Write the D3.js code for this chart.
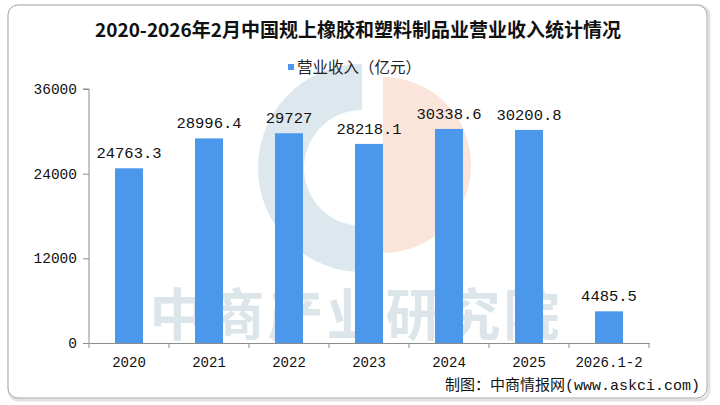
<!DOCTYPE html>
<html>
<head>
<meta charset="utf-8">
<script src="https://cdn.jsdelivr.net/npm/d3@7"></script>
<style>
  body { margin: 0; background: #fff; }
  svg { display: block; }
</style>
</head>
<body>
<svg id="chart"></svg>
<script>
const categories = ["2020", "2021", "2022", "2023", "2024", "2025", "2026.1-2"];
const revenue = [24763.3, 28996.4, 29727, 28218.1, 30338.6, 30200.8, 4485.5];
const valueLabels = ["24763.3", "28996.4", "29727", "28218.1", "30338.6", "30200.8", "4485.5"];
const yTicks = [0, 12000, 24000, 36000];

const W = 720, H = 405;
const margin = { top: 89, right: 71, bottom: 62, left: 89 };

const svg = d3.select("#chart").attr("width", W).attr("height", H);

// panel
svg.append("rect")
  .attr("x", 9).attr("y", 6).attr("width", 700).attr("height", 394)
  .attr("rx", 10).attr("fill", "none")
  .attr("stroke", "#e2e2e2").attr("stroke-width", 3);
svg.append("rect")
  .attr("x", 8).attr("y", 5).attr("width", 699).attr("height", 393)
  .attr("rx", 10).attr("fill", "#fff")
  .attr("stroke", "#a6a6a6").attr("stroke-width", 1);

// watermark
const wm = svg.append("g");
wm.append("path")
  .attr("transform", "translate(383,165)")
  .attr("d", d3.arc()({ innerRadius: 0, outerRadius: 88, startAngle: 0, endAngle: Math.PI }))
  .attr("fill", "#fbe4da");
wm.append("path")
  .attr("transform", "translate(362,168)")
  .attr("d", d3.arc()({ innerRadius: 58, outerRadius: 104, startAngle: -Math.PI * 1.05, endAngle: 0 }))
  .attr("fill", "#dce7ee");
wm.append("text")
  .attr("x", 356).attr("y", 335)
  .attr("text-anchor", "middle")
  .attr("font-family", "Noto Sans CJK SC")
  .attr("font-weight", 700)
  .attr("font-size", 56)
  .attr("letter-spacing", 3)
  .attr("fill", "#dbe5ea")
  .text("中商产业研究院");

// title
svg.append("text")
  .attr("x", 358).attr("y", 37)
  .attr("text-anchor", "middle")
  .attr("font-family", "Noto Sans CJK SC")
  .attr("font-weight", 700)
  .attr("font-size", 19)
  .attr("fill", "#111")
  .text("2020-2026年2月中国规上橡胶和塑料制品业营业收入统计情况");

// legend
svg.append("rect")
  .attr("x", 288).attr("y", 64).attr("width", 6).attr("height", 6)
  .attr("fill", "#4a97ec");
svg.append("text")
  .attr("x", 297).attr("y", 73)
  .attr("font-family", "Noto Sans CJK SC")
  .attr("font-size", 15.5)
  .attr("fill", "#222")
  .text("营业收入（亿元）");

const x = d3.scaleBand()
  .domain(categories)
  .range([margin.left, W - margin.right]);
const y = d3.scaleLinear()
  .domain([0, 36000])
  .range([H - margin.bottom, margin.top]);

const barW = x.bandwidth() * 0.35;

svg.selectAll(".bar")
  .data(revenue)
  .enter()
  .append("rect")
  .attr("class", "bar")
  .attr("x", (d, i) => x(categories[i]) + x.bandwidth() / 2 - barW / 2)
  .attr("y", (d) => y(d))
  .attr("width", barW)
  .attr("height", (d) => y(0) - y(d))
  .attr("fill", "#4a97ec");

svg.selectAll(".val")
  .data(revenue)
  .enter()
  .append("text")
  .attr("class", "val")
  .attr("x", (d, i) => x(categories[i]) + x.bandwidth() / 2)
  .attr("y", (d) => y(d) - 10)
  .attr("text-anchor", "middle")
  .attr("font-family", "Liberation Mono")
  .attr("font-size", 15.5)
  .attr("fill", "#111")
  .text((d, i) => valueLabels[i]);

const xAxis = svg.append("g")
  .attr("transform", `translate(0,${y(0)})`)
  .call(d3.axisBottom(x).tickSize(0).tickPadding(14));
xAxis.select(".domain").attr("stroke", "#8c8c8c");
xAxis.selectAll("text")
  .attr("font-family", "Liberation Mono")
  .attr("font-size", 14)
  .attr("fill", "#111");
// category boundary ticks
xAxis.selectAll(".bound")
  .data(categories.concat([null]))
  .enter()
  .append("line")
  .attr("class", "bound")
  .attr("x1", (d, i) => margin.left + i * x.step())
  .attr("x2", (d, i) => margin.left + i * x.step())
  .attr("y1", 0).attr("y2", 5)
  .attr("stroke", "#8c8c8c");

const yAxis = svg.append("g")
  .attr("transform", `translate(${margin.left},0)`)
  .call(d3.axisLeft(y).tickValues(yTicks).tickFormat(d3.format("d")).tickSize(6).tickPadding(6));
yAxis.select(".domain").attr("stroke", "#8c8c8c").attr("d", `M-6,${y(36000)}H0V${y(0)}`);
yAxis.selectAll(".tick line").attr("stroke", "#8c8c8c");
yAxis.selectAll("text")
  .attr("font-family", "Liberation Mono")
  .attr("font-size", 14.5)
  .attr("fill", "#111");

// source
svg.append("text")
  .attr("x", 700).attr("y", 390)
  .attr("text-anchor", "end")
  .attr("font-family", "Liberation Mono, Noto Sans CJK SC")
  .attr("font-size", 15)
  .attr("fill", "#111")
  .text("制图：中商情报网(www.askci.com)");
</script>
</body>
</html>
